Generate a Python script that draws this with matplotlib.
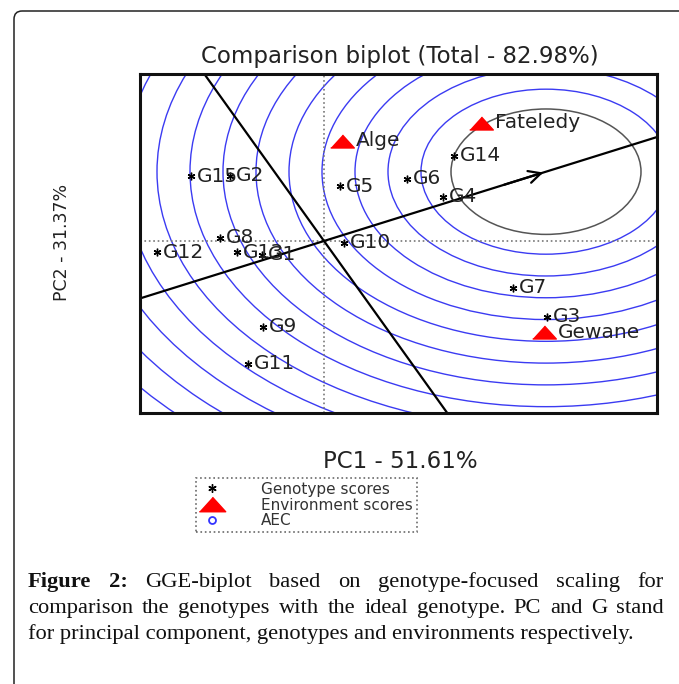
import matplotlib
matplotlib.use("Agg")
import matplotlib.pyplot as plt
from matplotlib.lines import Line2D
from matplotlib.patches import Circle, FancyBboxPatch
import numpy as np

# genotype scores (PC1, PC2)
geno_names = ['G1', 'G2', 'G3', 'G4', 'G5', 'G6', 'G7', 'G8', 'G9', 'G10',
              'G11', 'G12', 'G13', 'G14', 'G15']
geno_pc1 = [-0.62, -0.94, 2.23, 1.19, 0.16, 0.83, 1.89, -1.04, -0.61, 0.20,
            -0.76, -1.67, -0.87, 1.30, -1.33]
geno_pc2 = [-0.21, 0.99, -1.15, 0.67, 0.83, 0.94, -0.71, 0.05, -1.30, -0.03,
            -1.86, -0.17, -0.17, 1.29, 0.98]

# environment scores
env_names = ['Alge', 'Fateledy', 'Gewane']
env_pc1 = [0.18, 1.57, 2.20]
env_pc2 = [1.52, 1.79, -1.38]

# ideal genotype (on the AEC) and the circles around it
ideal = (2.22, 1.05)
inner_radius = 0.95
ring_radii = [1.25, 1.58, 1.91, 2.24, 2.57, 2.90, 3.23, 3.56, 3.89, 4.22,
              4.55, 4.88, 5.21, 5.54]

title = 'Comparison biplot (Total - 82.98%)'
xlabel = 'PC1 - 51.61%'
ylabel = 'PC2 - 31.37%'

W, H = 679, 684
fig = plt.figure(figsize=(W / 100, H / 100), dpi=100)

# page border (rounded box, runs off the right and bottom)
border = FancyBboxPatch((14 / W, -0.05), 1.2, 1 - 11 / H + 0.05,
                        boxstyle='round,pad=0,rounding_size=0.012',
                        transform=fig.transFigure, fill=False,
                        edgecolor='#222222', lw=1.1)
fig.patches.append(border)

ax = fig.add_axes([140 / W, 1 - 413 / H, (657 - 140) / W, (413 - 74) / H])
ax.set_xlim(-1.84, 3.33)
ax.set_ylim(-2.606, 2.530)
ax.set_xticks([])
ax.set_yticks([])
for s in ax.spines.values():
    s.set_linewidth(2.2)
    s.set_color('#111111')

# circles
for r in ring_radii:
    ax.add_patch(Circle(ideal, r, fill=False, edgecolor='#3b3bf2', lw=1.0))
ax.add_patch(Circle(ideal, inner_radius, fill=False, edgecolor='#555555', lw=1.1))

# axes through origin
ax.axhline(0, color='#777777', ls=':', lw=1.2)
ax.axvline(0, color='#777777', ls=':', lw=1.2)

# AEC abscissa and ordinate
slope = ideal[1] / ideal[0]
xs = np.array([-3, 5])
ax.plot(xs, slope * xs, color='black', lw=1.6)
ax.plot(xs, -xs / slope, color='black', lw=1.6)
ax.annotate('', xy=ideal, xytext=(ideal[0] * 0.8, ideal[1] * 0.8),
            arrowprops=dict(arrowstyle='->', lw=1.6, color='black',
                            mutation_scale=22))

lab_font = dict(family='DejaVu Sans', size=14.5, color='#222222')

ax.plot(geno_pc1, geno_pc2, ls='none', marker=(6, 2, 0), ms=5.5,
        mec='black', mew=1.0)
for n, x, y in zip(geno_names, geno_pc1, geno_pc2):
    ax.annotate(n, (x, y), xytext=(4.5, 0), textcoords='offset points',
                ha='left', va='center', **lab_font)

tri = [(-1, -0.55), (1, -0.55), (0, 0.55)]
ax.plot(env_pc1, env_pc2, ls='none', marker=tri, ms=17, color='red', mec='red')
for n, x, y in zip(env_names, env_pc1, env_pc2):
    ax.annotate(n, (x, y), xytext=(10, 0), textcoords='offset points',
                ha='left', va='center', **lab_font)

fig.text(400 / W, 1 - 57 / H, title, ha='center', va='center',
         family='DejaVu Sans', size=16.5, color='#222222')
fig.text(400 / W, 1 - 462 / H, xlabel, ha='center', va='center',
         family='DejaVu Sans', size=16.5, color='#222222')
fig.text(62 / W, 1 - 242 / H, ylabel, ha='center', va='center', rotation=90,
         family='DejaVu Sans', size=12.5, color='#222222')

handles = [
    Line2D([], [], ls='none', marker=(6, 2, 0), ms=6, mec='black', mew=1.0),
    Line2D([], [], ls='none', marker=tri, ms=19, color='red'),
    Line2D([], [], ls='none', marker='o', ms=5, mfc='none', mec='#3333ff', mew=1.3),
]
leg = fig.legend(handles, ['Genotype scores', 'Environment scores', 'AEC'],
                 loc='upper left', bbox_to_anchor=(196 / W, 1 - 478 / H),
                 prop=dict(family='DejaVu Sans', size=11), frameon=True,
                 fancybox=False, labelspacing=0.05, handletextpad=2.4,
                 borderpad=0.25, handlelength=1.6, borderaxespad=0)
leg.get_frame().set_edgecolor('#444444')
leg.get_frame().set_linestyle(':')
leg.get_frame().set_linewidth(1.2)
for t in leg.get_texts():
    t.set_color('#333333')

# caption (justified first two lines)
cap_font = dict(family='Liberation Serif', size=16.2, color='#111111')
x0, x1 = 28, 664
lines = [
    [('Figure', True), ('2:', True), ('GGE-biplot', False), ('based', False),
     ('on', False), ('genotype-focused', False), ('scaling', False), ('for', False)],
    [(w, False) for w in 'comparison the genotypes with the ideal genotype. PC and G stand'.split()],
]
ys = [587, 613]
renderer = fig.canvas.get_renderer()
for words, y in zip(lines, ys):
    texts = []
    for w, bold in words:
        t = fig.text(0, 1 - y / H, w, ha='left', va='baseline',
                     weight='bold' if bold else 'normal', **cap_font)
        texts.append(t)
    widths = [t.get_window_extent(renderer).width for t in texts]
    gap = (x1 - x0 - sum(widths)) / (len(texts) - 1)
    x = x0
    for t, wd in zip(texts, widths):
        t.set_x(x / W)
        x += wd + gap
fig.text(x0 / W, 1 - 639 / H,
         'for principal component, genotypes and environments respectively.',
         ha='left', va='baseline', **cap_font)

fig.savefig('out.png', dpi=100)
